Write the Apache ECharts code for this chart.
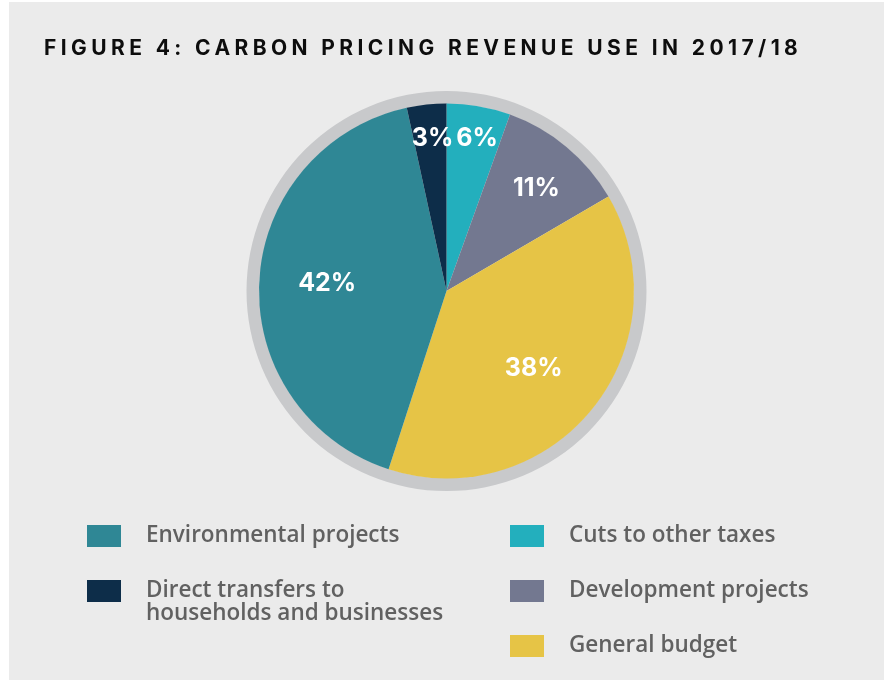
<!DOCTYPE html>
<html>
<head>
<meta charset="utf-8">
<script src="https://cdn.jsdelivr.net/npm/echarts@6/dist/echarts.min.js"></script>
<style>
  html, body { margin: 0; padding: 0; background: #ffffff; }
  #wrap { position: relative; width: 884px; height: 681px; overflow: hidden; }
  #panel { position: absolute; left: 9px; top: 2px; width: 875px; height: 678px; background: #ebebeb; }
  #chart { position: absolute; left: 0; top: 0; width: 884px; height: 681px; }
  #title { position: absolute; left: 44px; top: 37px; font-family: Inter, 'DejaVu Sans', sans-serif; font-weight: 700;
           font-size: 21px; line-height: 21px; letter-spacing: 4.4px; color: #0d0d0d; white-space: nowrap; }
</style>
</head>
<body>
<div id="wrap">
  <div id="panel"></div>
  <div id="chart"></div>
  <div id="title"></div>
</div>
<script>
// ---- data ----
const titleText = 'FIGURE 4: CARBON PRICING REVENUE USE IN 2017/18';
const categories = [
  'Cuts to other taxes',
  'Development projects',
  'General budget',
  'Environmental projects',
  'Direct transfers to households and businesses'
];
const values = [5.5, 11.1, 38.4, 41.6, 3.4];   // shares (%), clockwise from 12 o'clock
const colors = ['#23afbd', '#737890', '#e6c446', '#2f8795', '#0d2d49'];

// ---- style config ----
const CX = 446.5, CY = 291;
const labelRadius = [156, 136, 116.5, 119.5, 153.5];
const labelAngleShift = [1.4, 1.6, 2.7, 0.6, 0.9];   // degrees, clockwise

document.getElementById('title').textContent = titleText;

const chart = echarts.init(document.getElementById('chart'), null, { renderer: 'canvas' });

const FONT = "'Open Sans', sans-serif";
const legendText = {
  fontFamily: FONT,
  fontWeight: 600,
  fontSize: 22.5,
  color: '#616161',
  lineHeight: 23,
  padding: [0, 0, 0, 20]
};
const legendBase = {
  orient: 'vertical',
  icon: 'rect',
  itemWidth: 34,
  itemHeight: 22,
  padding: 0,
  selectedMode: false,
  textStyle: legendText
};

chart.setOption({
  animation: false,
  legend: [
    Object.assign({}, legendBase, { left: 87, top: 524.5, data: [categories[3]] }),
    Object.assign({}, legendBase, {
      left: 87, top: 556.5,
      data: [categories[4]],
      // first text line is aligned with the swatch, second line wraps below it
      formatter: function (n) {
        const parts = n.split(' households');
        return '\n' + parts[0] + '\nhouseholds' + parts[1];
      }
    }),
    Object.assign({}, legendBase, { left: 510, top: 524.5, itemGap: 32,
      data: [categories[0], categories[1], categories[2]] })
  ],
  series: [
    {
      type: 'pie',
      silent: true,
      center: [CX, CY],
      radius: [187, 200],
      z: 1,
      label: { show: false },
      labelLine: { show: false },
      data: [{ value: 1, name: 'ring', itemStyle: { color: '#c8c9cb' } }]
    },
    {
      type: 'pie',
      silent: true,
      center: [CX, CY],
      radius: [0, 187.5],
      startAngle: 90,
      clockwise: true,
      z: 2,
      data: categories.map(function (c, i) {
        return { name: c, value: values[i], itemStyle: { color: colors[i] } };
      }),
      label: {
        show: true,
        position: 'inside',
        formatter: function (p) { return Math.round(p.percent) + '%'; },
        color: '#ffffff',
        fontFamily: 'Inter, sans-serif',
        fontWeight: 700,
        fontSize: 25
      },
      labelLine: { show: false },
      labelLayout: function (p) {
        const r = p.labelRect;
        const lx = r.x + r.width / 2, ly = r.y + r.height / 2;
        let dx = lx - CX, dy = ly - CY;
        const a = labelAngleShift[p.dataIndex] * Math.PI / 180;
        const rx = dx * Math.cos(a) - dy * Math.sin(a);
        const ry = dx * Math.sin(a) + dy * Math.cos(a);
        const d = Math.hypot(rx, ry) || 1;
        const t = labelRadius[p.dataIndex];
        return { x: CX + rx / d * t, y: CY + ry / d * t, align: 'center', verticalAlign: 'middle' };
      }
    }
  ]
});
</script>
</body>
</html>
